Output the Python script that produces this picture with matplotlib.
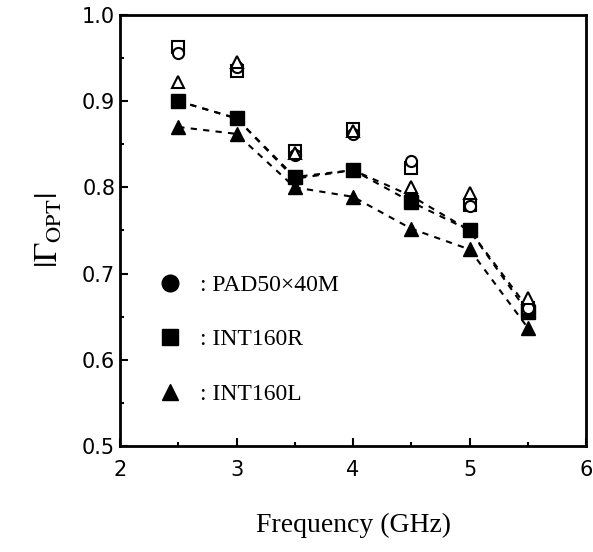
import matplotlib
matplotlib.use("Agg")
import matplotlib.pyplot as plt
from matplotlib.lines import Line2D
from matplotlib.ticker import MultipleLocator

plt.rcParams["mathtext.fontset"] = "stix"

freq = [2.5, 3.0, 3.5, 4.0, 4.5, 5.0, 5.5]

# filled symbols (dashed lines)
pad_fill = [0.90, 0.88, 0.81, 0.82, 0.79, 0.75, 0.66]
intr_fill = [0.90, 0.88, 0.812, 0.82, 0.783, 0.75, 0.655]
intl_fill = [0.87, 0.862, 0.80, 0.789, 0.752, 0.728, 0.637]

# open symbols
pad_open = [0.956, 0.94, 0.838, 0.862, 0.83, 0.778, 0.66]
intr_open = [0.963, 0.935, 0.842, 0.868, 0.822, 0.78, 0.66]
intl_open = [0.922, 0.945, 0.84, 0.865, 0.80, 0.793, 0.672]

labels = [": PAD50\u00d740M", ": INT160R", ": INT160L"]

fig = plt.figure(figsize=(5.93, 5.52), dpi=100)
ax = fig.add_axes([0.2024, 0.192, 0.786, 0.781])

dash = dict(color="black", linestyle=(0, (3, 3)), linewidth=1.5)
ax.plot(freq, pad_fill, marker="o", markersize=9, markerfacecolor="black",
        markeredgecolor="black", zorder=2, **dash)
ax.plot(freq, intr_fill, marker="s", markersize=10, markerfacecolor="black",
        markeredgecolor="black", zorder=3, **dash)
ax.plot(freq, intl_fill, marker="^", markersize=10, markerfacecolor="black",
        markeredgecolor="black", zorder=3, **dash)

ax.plot(freq, intr_open, "s", markersize=9, markerfacecolor="white",
        markeredgecolor="black", markeredgewidth=1.5, zorder=4)
ax.plot(freq, pad_open, "o", markersize=8, markerfacecolor="white",
        markeredgecolor="black", markeredgewidth=1.5, zorder=5)
ax.plot(freq, intl_open, "^", markersize=9, markerfacecolor="white",
        markeredgecolor="black", markeredgewidth=1.5, zorder=5)

ax.set_xlim(2, 6)
ax.set_ylim(0.5, 1.0)
ax.xaxis.set_major_locator(MultipleLocator(1))
ax.xaxis.set_minor_locator(MultipleLocator(0.5))
ax.yaxis.set_major_locator(MultipleLocator(0.1))
ax.yaxis.set_minor_locator(MultipleLocator(0.05))
ax.yaxis.set_major_formatter(lambda v, p: f"{v:.1f}")
ax.tick_params(which="both", direction="in", top=False, right=False,
               labelsize=15, width=1.5)
ax.tick_params(which="major", length=6)
ax.tick_params(which="minor", length=3)
ax.tick_params(axis="x", pad=10)
for s in ax.spines.values():
    s.set_linewidth(2)

ax.set_xlabel("Frequency (GHz)", family="Liberation Serif", fontsize=20,
              labelpad=24)
ax.set_ylabel(r"$|\Gamma_{\rm OPT}|$", fontsize=23, labelpad=12)

handles = [
    Line2D([], [], linestyle="none", marker="o", markersize=12, color="black"),
    Line2D([], [], linestyle="none", marker="s", markersize=12, color="black"),
    Line2D([], [], linestyle="none", marker="^", markersize=12, color="black"),
]
leg = ax.legend(handles, labels, loc="lower left", bbox_to_anchor=(0.01, 0.046),
                frameon=False, handletextpad=0.3, labelspacing=1.4,
                prop={"family": "Liberation Serif", "size": 17})

fig.savefig("out.png", dpi=100)
